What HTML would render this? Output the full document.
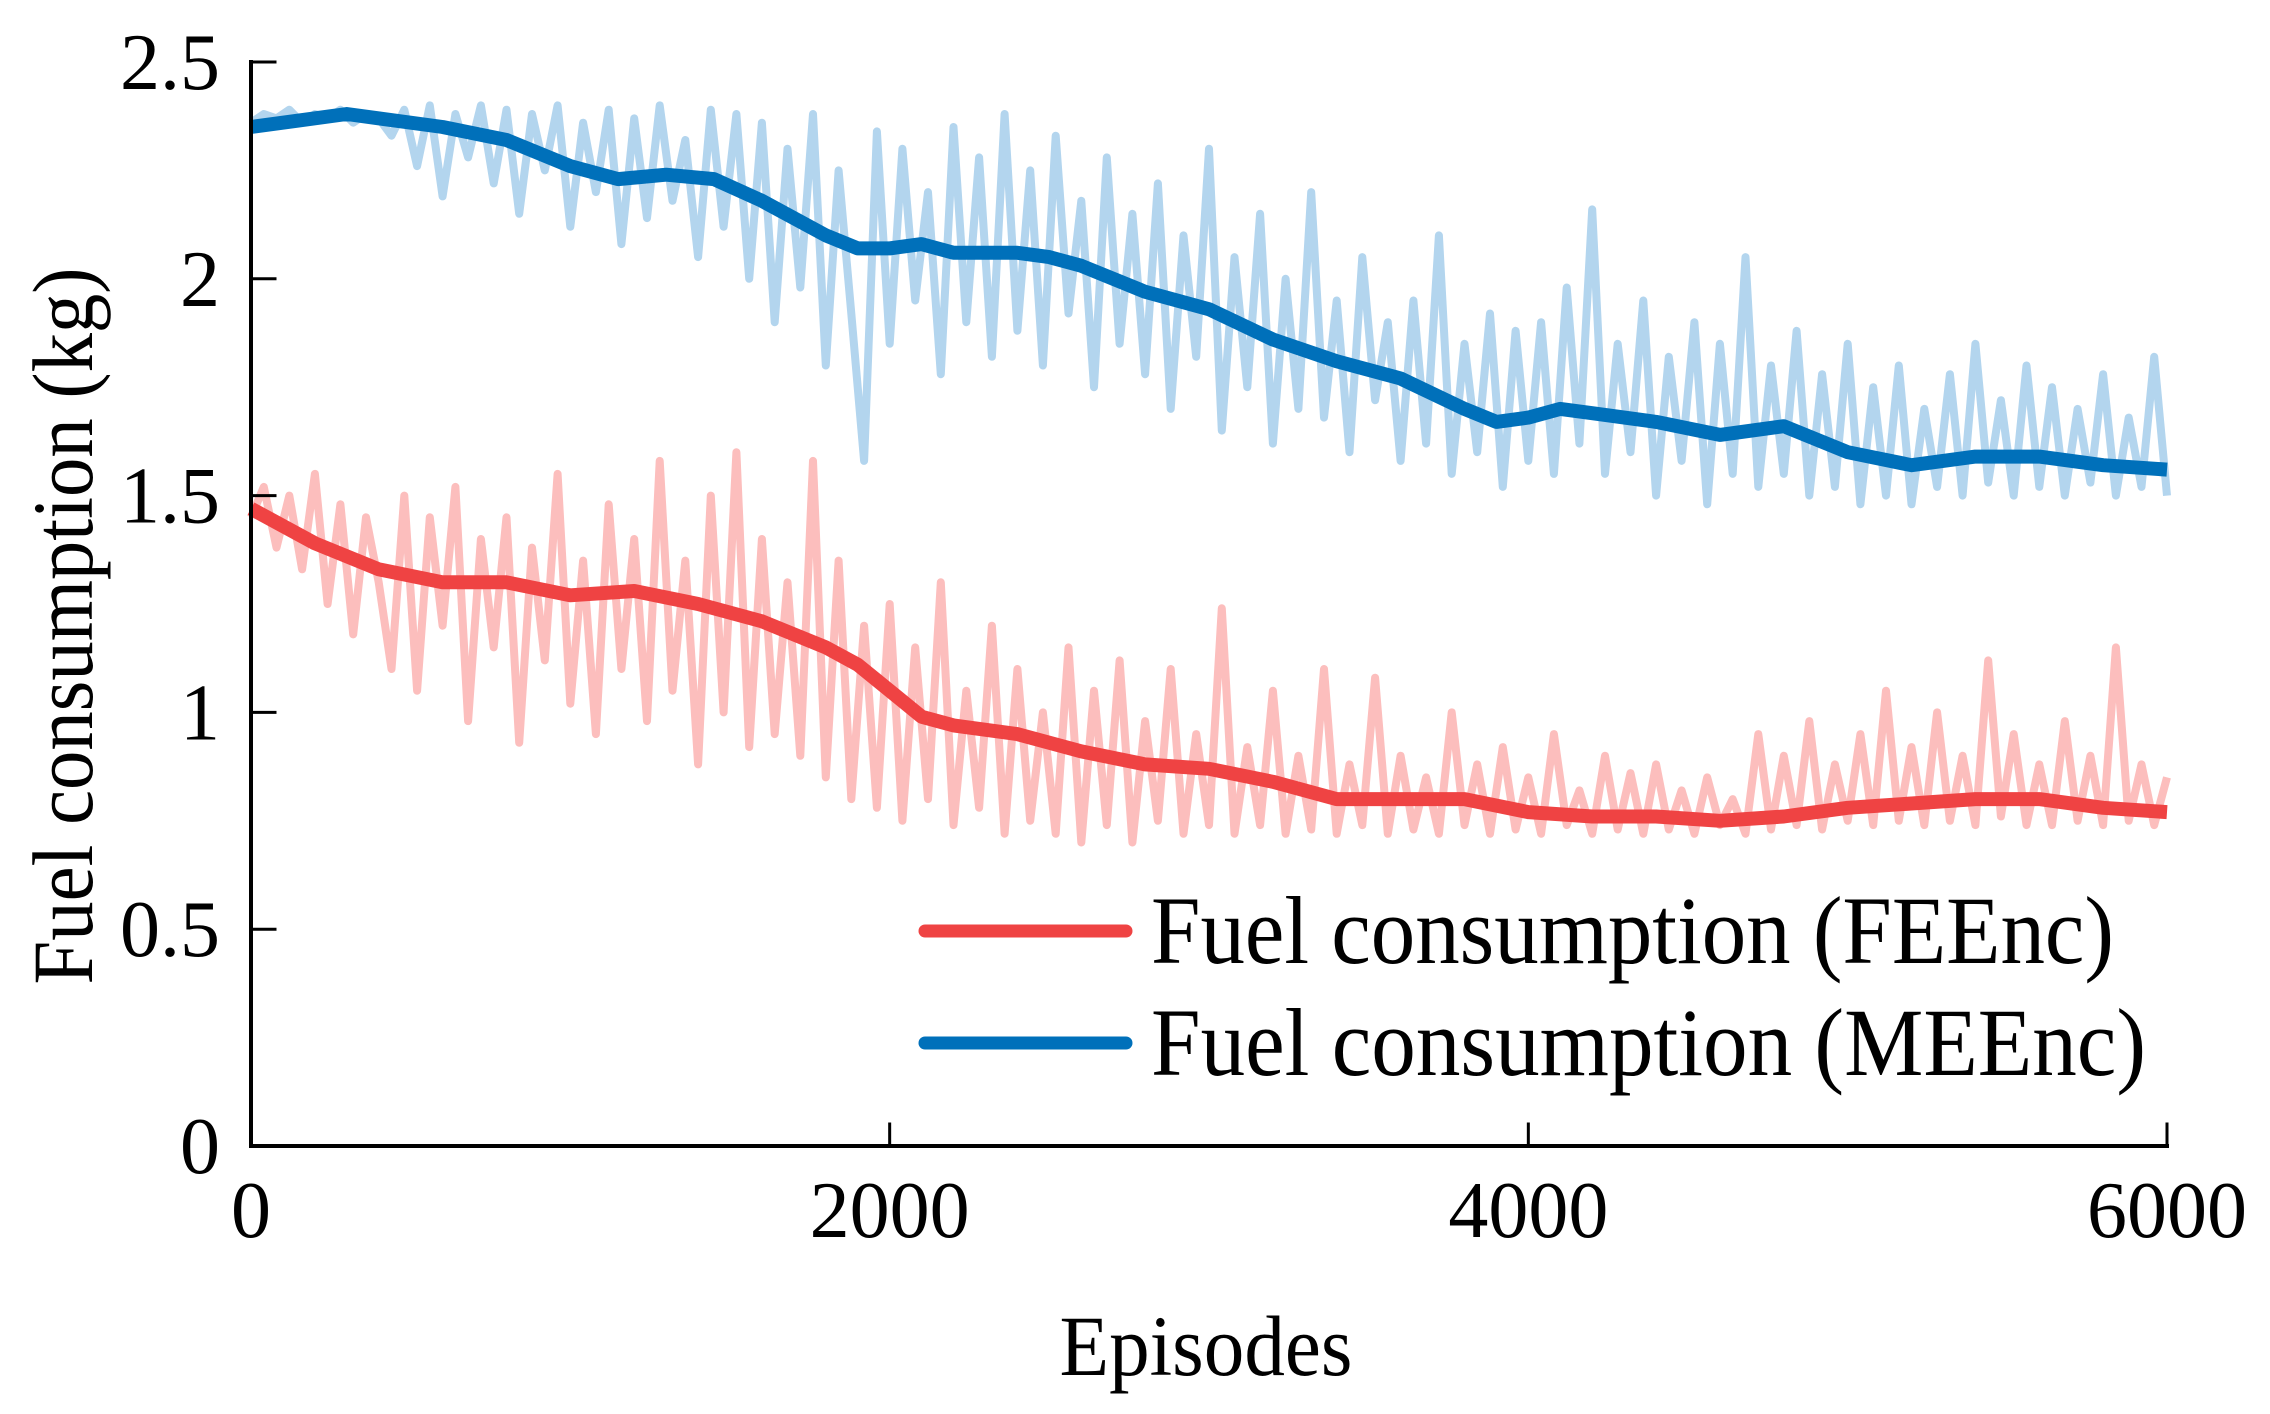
<!DOCTYPE html>
<html><head><meta charset="utf-8"><style>
html,body{margin:0;padding:0;background:#fff;}
svg{display:block;}
text{font-family:"Liberation Serif","Times New Roman",serif;fill:#000;}
</style></head><body>
<svg id="chart" width="2270" height="1414" viewBox="0 0 2270 1414" xmlns="http://www.w3.org/2000/svg">
<g id="plot"></g>
<g id="axes"></g>
<text x="0" y="0" font-size="86" text-anchor="middle" transform="translate(92,626) rotate(-90)" textLength="717" lengthAdjust="spacingAndGlyphs">Fuel consumption (kg)</text>
<text x="1206" y="1375" font-size="86" text-anchor="middle" textLength="293" lengthAdjust="spacingAndGlyphs">Episodes</text>
<g>
  <line x1="925" y1="931" x2="1126" y2="931" stroke="#ef4343" stroke-width="13" stroke-linecap="round"/>
  <text x="1151" y="963" font-size="96" textLength="963" lengthAdjust="spacingAndGlyphs">Fuel consumption (FEEnc)</text>
  <line x1="925" y1="1043" x2="1126" y2="1043" stroke="#0070ba" stroke-width="13" stroke-linecap="round"/>
  <text x="1151" y="1075" font-size="96" textLength="995" lengthAdjust="spacingAndGlyphs">Fuel consumption (MEEnc)</text>
</g>
</svg>
<script>
const rawStep = 40;
const blueRaw = [2.36,2.38,2.37,2.39,2.36,2.38,2.37,2.39,2.36,2.38,
2.37,2.33,2.39,2.26,2.40,2.19,2.38,2.28,2.40,2.22,
2.39,2.15,2.38,2.25,2.40,2.12,2.36,2.20,2.39,2.08,
2.37,2.14,2.40,2.18,2.32,2.05,2.39,2.12,2.38,2.00,
2.36,1.90,2.30,1.98,2.38,1.80,2.25,1.92,1.58,2.34,
1.85,2.30,1.95,2.20,1.78,2.35,1.90,2.28,1.82,2.38,
1.88,2.25,1.80,2.33,1.92,2.18,1.75,2.28,1.85,2.15,
1.78,2.22,1.70,2.10,1.82,2.30,1.65,2.05,1.75,2.15,
1.62,2.00,1.70,2.20,1.68,1.95,1.60,2.05,1.72,1.90,
1.58,1.95,1.62,2.10,1.55,1.85,1.60,1.92,1.52,1.88,
1.58,1.90,1.55,1.98,1.62,2.16,1.55,1.85,1.60,1.95,
1.50,1.82,1.58,1.90,1.48,1.85,1.55,2.05,1.52,1.80,
1.55,1.88,1.50,1.78,1.52,1.85,1.48,1.75,1.50,1.80,
1.48,1.70,1.52,1.78,1.50,1.85,1.53,1.72,1.50,1.80,
1.52,1.75,1.50,1.70,1.53,1.78,1.50,1.68,1.52,1.82,1.50];
const redRaw = [1.45,1.52,1.38,1.50,1.33,1.55,1.25,1.48,1.18,1.45,
1.30,1.10,1.50,1.05,1.45,1.20,1.52,0.98,1.40,1.15,
1.45,0.93,1.38,1.12,1.55,1.02,1.35,0.95,1.48,1.10,
1.40,0.98,1.58,1.05,1.35,0.88,1.50,1.00,1.60,0.92,
1.40,0.95,1.30,0.90,1.58,0.85,1.35,0.80,1.20,0.78,
1.25,0.75,1.15,0.80,1.30,0.74,1.05,0.78,1.20,0.72,
1.10,0.75,1.00,0.72,1.15,0.70,1.05,0.74,1.12,0.70,
0.98,0.75,1.10,0.72,0.95,0.74,1.24,0.72,0.92,0.74,
1.05,0.72,0.90,0.73,1.10,0.72,0.88,0.74,1.08,0.72,
0.90,0.73,0.85,0.72,1.00,0.74,0.88,0.72,0.92,0.73,
0.85,0.72,0.95,0.74,0.82,0.72,0.90,0.73,0.86,0.72,
0.88,0.73,0.82,0.72,0.85,0.74,0.80,0.72,0.95,0.73,
0.90,0.74,0.98,0.73,0.88,0.75,0.95,0.74,1.05,0.75,
0.92,0.74,1.00,0.75,0.90,0.74,1.12,0.76,0.95,0.74,
0.88,0.74,0.98,0.75,0.90,0.74,1.15,0.75,0.88,0.74,0.85];
const blueSmoothX = [0,300,600,800,1000,1150,1300,1450,1600,1800,1900,2000,2100,2200,2400,2500,2600,2800,3000,3200,3400,3600,3800,3900,4000,4100,4200,4400,4600,4800,5000,5200,5400,5600,5800,6000];
const blueSmoothY = [2.35,2.38,2.35,2.32,2.26,2.23,2.24,2.23,2.18,2.10,2.07,2.07,2.08,2.06,2.06,2.05,2.03,1.97,1.93,1.86,1.81,1.77,1.70,1.67,1.68,1.70,1.69,1.67,1.64,1.66,1.60,1.57,1.59,1.59,1.57,1.56];
const redSmoothX = [0,200,400,600,800,1000,1200,1400,1600,1800,1900,2000,2100,2200,2400,2600,2800,3000,3200,3400,3600,3800,4000,4200,4400,4600,4800,5000,5200,5400,5600,5800,6000];
const redSmoothY = [1.47,1.39,1.33,1.30,1.30,1.27,1.28,1.25,1.21,1.15,1.11,1.05,0.99,0.97,0.95,0.91,0.88,0.87,0.84,0.80,0.80,0.80,0.77,0.76,0.76,0.75,0.76,0.78,0.79,0.80,0.80,0.78,0.77];
const xTicks = [0,2000,4000,6000];
const xTickLabels = ["0","2000","4000","6000"];
const yTicks = [0,0.5,1,1.5,2,2.5];
const yTickLabels = ["0","0.5","1","1.5","2","2.5"];

const X0=251, X1=2167, Y0=1146, Y1=62;
const sx = v => X0 + (v/6000)*(X1-X0);
const sy = v => Y0 - (v/2.5)*(Y0-Y1);
const NS="http://www.w3.org/2000/svg";
const plot=document.getElementById('plot'), axes=document.getElementById('axes');
function path(xs, ys, color, w, name){
  const p=document.createElementNS(NS,'path');
  
  
  p.setAttribute('d', ys.map((y,i)=>(i?'L':'M')+sx(xs[i]).toFixed(1)+','+sy(y).toFixed(1)).join(''));
  p.setAttribute('fill','none');p.setAttribute('stroke',color);p.setAttribute('stroke-width',w);
  p.setAttribute('stroke-linejoin','round');
  plot.appendChild(p);
}
const rx = arr => arr.map((_,i)=>i*rawStep);
path(rx(blueRaw), blueRaw, '#b3d5ee', 8, 'meenc-raw-line');
path(rx(redRaw), redRaw, '#fcbebd', 8, 'feenc-raw-line');
path(blueSmoothX, blueSmoothY, '#0070ba', 14, 'meenc-smoothed-line');
path(redSmoothX, redSmoothY, '#ef4343', 14, 'feenc-smoothed-line');

function line(x1,y1,x2,y2,w,name){
  const l=document.createElementNS(NS,'line');
  
  
  l.setAttribute('x1',x1);l.setAttribute('y1',y1);l.setAttribute('x2',x2);l.setAttribute('y2',y2);
  l.setAttribute('stroke','#000');l.setAttribute('stroke-width',w);l.setAttribute('stroke-linecap','square');
  axes.appendChild(l);
}
function txt(x,y,s,anchor,name){
  const t=document.createElementNS(NS,'text');
  
  
  t.setAttribute('x',x);t.setAttribute('y',y);t.setAttribute('font-size','80');t.setAttribute('text-anchor',anchor);
  t.textContent=s;axes.appendChild(t);
}
line(X0,Y1,X0,Y0,4,'y-axis-line');
line(X0,Y0,X1,Y0,4,'x-axis-line');
xTicks.forEach((v,i)=>{
  line(sx(v),Y0,sx(v),Y0-22,3,'x-tick');
  txt(sx(v),1237,xTickLabels[i],'middle','x-tick-label');
});
yTicks.forEach((v,i)=>{
  line(X0,sy(v),X0+24,sy(v),3,'y-tick');
  txt(220,sy(v)+27,yTickLabels[i],'end','y-tick-label');
});
</script>
</body></html>
